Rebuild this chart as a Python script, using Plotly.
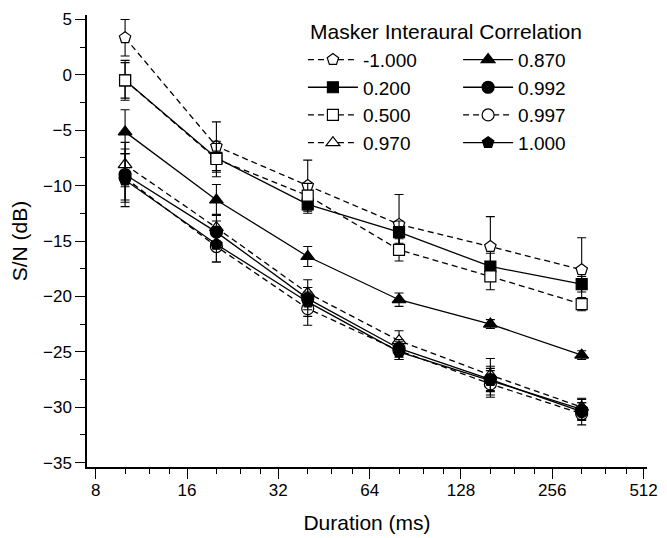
import plotly.graph_objects as go
import math

durations = [10, 20, 40, 80, 160, 320]
x_tick_vals = [8, 16, 32, 64, 128, 256, 512]
x_minor_vals = [10, 12, 14, 20, 24, 28, 40, 48, 56, 80, 96, 112, 160, 192, 224, 320, 384, 448]

sn_m1000 = [3.35, -6.45, -10.0, -13.5, -15.5, -17.6]
err_m1000 = [1.65, 2.2, 2.3, 2.7, 2.7, 2.9]
sn_0200 = [-0.5, -7.5, -11.7, -14.2, -17.3, -18.9]
err_0200 = [1.6, 1.3, 0.8, 1.0, 1.2, 0.7]
sn_0500 = [-0.5, -7.6, -10.9, -15.8, -18.2, -20.7]
err_0500 = [1.8, 1.6, 1.1, 1.0, 1.2, 0.6]
sn_0870 = [-5.15, -11.3, -16.4, -20.3, -22.5, -25.3]
err_0870 = [2.0, 1.4, 0.9, 0.6, 0.4, 0.4]
sn_0970 = [-8.1, -13.8, -19.7, -24.0, -27.1, -30.0]
err_0970 = [2.0, 1.2, 1.2, 0.9, 1.5, 0.8]
sn_0992 = [-9.0, -14.2, -20.2, -24.7, -27.5, -30.4]
err_0992 = [2.3, 1.0, 1.0, 0.8, 1.0, 0.8]
sn_0997 = [-9.3, -15.5, -21.1, -24.9, -27.9, -30.6]
err_0997 = [2.2, 1.4, 1.5, 0.8, 1.2, 1.0]
sn_1000 = [-9.5, -15.3, -20.5, -25.0, -27.6, -30.2]
err_1000 = [2.4, 1.6, 1.3, 0.7, 1.3, 0.9]

# name, y, err, symbol, filled, dashed, legend, rank
series = [
    ("-1.000", sn_m1000, err_m1000, "pentagon", False, True, "legend", 1),
    ("0.200", sn_0200, err_0200, "square", True, False, "legend", 2),
    ("0.500", sn_0500, err_0500, "square", False, True, "legend", 3),
    ("0.870", sn_0870, err_0870, "triangle-up", True, False, "legend2", 5),
    ("0.970", sn_0970, err_0970, "triangle-up", False, True, "legend", 4),
    ("0.997", sn_0997, err_0997, "circle", False, True, "legend2", 7),
    ("0.992", sn_0992, err_0992, "circle", True, False, "legend2", 6),
    ("1.000", sn_1000, err_1000, "pentagon", True, False, "legend2", 8),
]

fig = go.Figure()
for name, y, err, sym, filled, dashed, leg, rank in series:
    fig.add_trace(go.Scatter(
        x=durations, y=y, name=name, mode="lines+markers",
        legend=leg, legendrank=rank,
        line=dict(color="black", width=1.3, dash="6px,4px" if dashed else "solid"),
        marker=dict(symbol=sym, size=12 if sym != "square" else 11,
                    color="black" if filled else "white",
                    line=dict(color="black", width=1.2)),
        error_y=dict(type="data", array=err, visible=True, color="black",
                     thickness=1.1, width=4.5),
    ))

# The page body has an 8px default margin; the figure is sized/margined to compensate.
PW, PH = 559.4, 452.0   # plot area size
X0, Y0 = 87.3, 15.0     # plot area top-left in the window

font_family = "Liberation Sans, Arial, sans-serif"
fig.update_layout(
    width=659, height=530,
    margin=dict(l=79, r=20, t=7, b=71, autoexpand=False),
    plot_bgcolor="white", paper_bgcolor="white",
    font=dict(family=font_family, color="black", size=17),
    showlegend=True,
    legend=dict(x=(303 - X0) / PW, y=1 - (40.7 - Y0) / PH, xanchor="left", yanchor="top",
                bgcolor="rgba(0,0,0,0)", font=dict(size=19), itemwidth=50,
                tracegroupgap=0),
    legend2=dict(x=(458 - X0) / PW, y=1 - (40.7 - Y0) / PH, xanchor="left", yanchor="top",
                 bgcolor="rgba(0,0,0,0)", font=dict(size=19), itemwidth=50,
                 tracegroupgap=0),
    xaxis=dict(
        type="log", automargin=False,
        range=[math.log10(7.49), math.log10(525.4)],
        tickvals=x_tick_vals, ticktext=[str(v) for v in x_tick_vals],
        ticks="outside", ticklen=10, tickwidth=1.3, tickcolor="black",
        showline=True, linecolor="black", linewidth=1.5,
        showgrid=False, zeroline=False,
        minor=dict(tickvals=x_minor_vals, ticks="outside", ticklen=5,
                   tickwidth=1.2, tickcolor="black", showgrid=False),
        title=dict(text="Duration (ms)", font=dict(size=21), standoff=16),
        tickfont=dict(size=17),
        ticklabelstandoff=-3,
    ),
    yaxis=dict(
        automargin=False,
        range=[-35.4, 5.4],
        tickvals=[5, 0, -5, -10, -15, -20, -25, -30, -35],
        ticks="outside", ticklen=10, tickwidth=1.3, tickcolor="black",
        showline=True, linecolor="black", linewidth=1.5,
        showgrid=False, zeroline=False,
        minor=dict(dtick=2.5, tick0=0, ticks="outside", ticklen=5,
                   tickwidth=1.2, tickcolor="black", showgrid=False),
        title=dict(text="S/N (dB)", font=dict(size=21), standoff=15),
        tickfont=dict(size=17),
    ),
    annotations=[dict(text="Masker Interaural Correlation", xref="paper", yref="paper",
                      x=(308 - X0) / PW, y=1 - (31 - Y0) / PH, xanchor="left", yanchor="middle",
                      showarrow=False, font=dict(size=21))],
)

fig.write_html("out.html")
